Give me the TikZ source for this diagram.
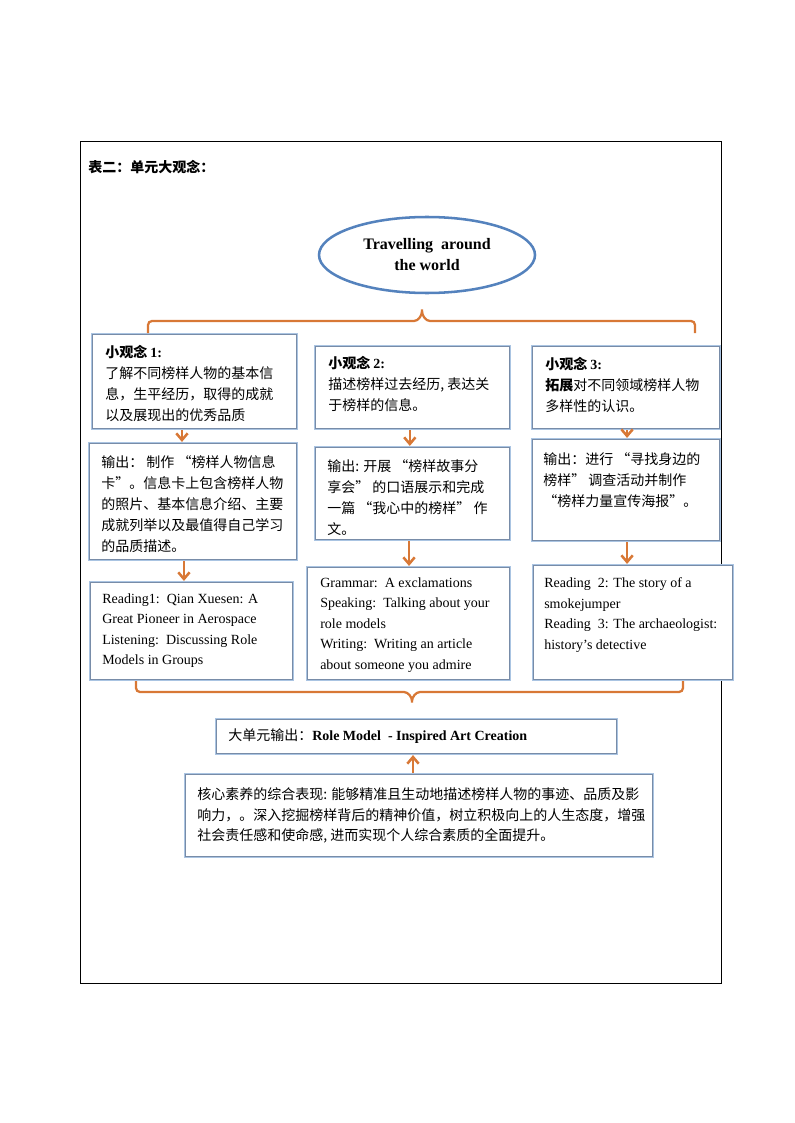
\documentclass[tikz,border=0pt]{standalone}
\usepackage{fontspec}
\setmainfont{Liberation Serif}
\newfontfamily\cjk{Noto Sans CJK SC}
\usetikzlibrary{arrows.meta,shapes.geometric,fit}
\definecolor{orangeline}{RGB}{216,120,54}
\definecolor{ellblue}{RGB}{84,130,189}
\definecolor{boxouter}{RGB}{170,196,226}
\definecolor{boxinner}{RGB}{120,140,168}
\tikzset{
  ubox/.style={draw=boxouter, line width=1.6pt, fill=white, inner sep=0pt},
  innerline/.style={draw=boxinner, line width=0.55pt},
  cntext/.style={anchor=west, align=left, inner sep=0pt, font={\cjk\fontsize{10.5}{15.75}\selectfont}},
  entext/.style={anchor=west, align=left, inner sep=0pt, font={\fontsize{10.5}{15.4}\selectfont}},
  flowarrow/.style={draw=orangeline, line width=1.9pt, -{Straight Barb[length=5pt,width=8.5pt,line width=1.9pt]}},
  bracepath/.style={draw=orangeline, line width=1.7pt, rounded corners=3pt},
}
\begin{document}
\begin{tikzpicture}[x=0.75pt,y=-0.75pt]
\path[use as bounding box] (0,0) rectangle (794,1123);
% outer frame
\draw[black, line width=0.7pt] (80,141) rectangle (721,983);

% title
\node[cntext, font={\cjk\bfseries\fontsize{10.5}{15.75}\selectfont}] (title) at (88,167) {表二：单元大观念：};

% ellipse
\node[ellipse, draw=ellblue, line width=1.9pt, minimum width=162pt, minimum height=57pt, align=center,
      font={\bfseries\fontsize{12}{15.75}\selectfont}] (ell) at (427,255) {Travelling\ \ around\\the world};

% boxes
\node[ubox, fit={(92,334) (297,429)}] (b1) {};
\node[ubox, fit={(89,443) (297,560)}] (o1) {};
\node[ubox, fit={(90,582) (293,680)}] (r1) {};
\node[ubox, fit={(315,346) (510,429)}] (b2) {};
\node[ubox, fit={(315,447) (510,540)}] (o2) {};
\node[ubox, fit={(307,567) (510,680)}] (r2) {};
\node[ubox, fit={(532,346) (720,429)}] (b3) {};
\node[ubox, fit={(532,439) (720,541)}] (o3) {};
\node[ubox, fit={(533,565) (733,680)}] (r3) {};
\node[ubox, fit={(216,719) (617,754)}] (big) {};
\node[ubox, fit={(185,774) (653,857)}] (core) {};
\foreach \n in {b1,o1,r1,b2,o2,r2,b3,o3,r3,big,core}
  \draw[innerline] ([shift={(1.1pt,-1.1pt)}]\n.north west) rectangle ([shift={(-1.1pt,1.1pt)}]\n.south east);

% texts
\node[cntext] (b1t) at (105,384) {{\bfseries 小观念 }\textbf{\rmfamily 1:}\\了解不同榜样人物的基本信\\息，生平经历，取得的成就\\以及展现出的优秀品质};
\node[cntext] (o1t) at (101,504) {输出： 制作 “榜样人物信息\\卡”。信息卡上包含榜样人物\\的照片、基本信息介绍、主要\\成就列举以及最值得自己学习\\的品质描述。};
\node[cntext] (b2t) at (328,384) {{\bfseries 小观念 }\textbf{\rmfamily 2:}\\描述榜样过去经历, 表达关\\于榜样的信息。};
\node[cntext] (o2t) at (327,497.5) {输出: 开展 “榜样故事分\\享会” 的口语展示和完成\\一篇 “我心中的榜样” 作\\文。};
\node[cntext] (b3t) at (545,385) {{\bfseries 小观念 }\textbf{\rmfamily 3:}\\{\bfseries 拓展}对不同领域榜样人物\\多样性的认识。};
\node[cntext] (o3t) at (543,480) {输出：进行 “寻找身边的\\榜样” 调查活动并制作\\“榜样力量宣传海报”。};
\node[entext] (r1t) at (102,630.5) {Reading1:\ \ Qian Xuesen: A\\Great Pioneer in Aerospace\\Listening:\ \ Discussing Role\\Models in Groups};
\node[entext] (r2t) at (320,625) {Grammar:\ \ A exclamations\\Speaking:\ \ Talking about your\\role models\\Writing:\ \ Writing an article\\about someone you admire};
\node[entext] (r3t) at (544,615) {Reading\ \ 2: The story of a\\smokejumper\\Reading\ \ 3: The archaeologist:\\history’s detective};
\node[cntext] (bigt) at (228,736) {大单元输出：\textbf{\rmfamily Role Model\ \ - Inspired Art Creation}};
\node[cntext, font={\cjk\fontsize{10.5}{15.4}\selectfont}] (coret) at (197,815.5) {核心素养的综合表现: 能够精准且生动地描述榜样人物的事迹、品质及影\\响力，。深入挖掘榜样背后的精神价值，树立积极向上的人生态度，增强\\社会责任感和使命感, 进而实现个人综合素质的全面提升。};

% vertical arrows
\draw[flowarrow] ([xshift=-9.4pt]b1.south) -- ([xshift=-9.4pt]b1.south |- o1.north);
\draw[flowarrow] ([xshift=-6.8pt]o1.south) -- ([xshift=-6.8pt]o1.south |- r1.north);
\draw[flowarrow] ([xshift=-2pt]b2.south) -- ([xshift=-2pt]b2.south |- o2.north);
\draw[flowarrow] ([xshift=-2.6pt]o2.south) -- ([xshift=-2.6pt]o2.south |- r2.north);
\draw[flowarrow] ([xshift=0.8pt]b3.south) -- ([xshift=0.8pt]b3.south |- o3.north);
\draw[flowarrow] ([xshift=0.8pt]o3.south) -- ([xshift=0.8pt]o3.south |- r3.north);
\draw[flowarrow] ([xshift=-4.5pt]core.north) -- ([xshift=-4.5pt]core.north |- big.south);

% braces
\coordinate (tl) at (148,333);
\coordinate (tr) at (695,333);
\coordinate (bl) at (136,681);
\coordinate (br) at (683,681);
\draw[bracepath] (tl) -- (148,321) -- (410,321) .. controls (418,321) and (422,316) .. (422,307)
      .. controls (422,316) and (426,321) .. (434,321) -- (695,321) -- (tr);
\draw[bracepath] (bl) -- (136,692) -- (400,692) .. controls (408,692) and (412,697) .. (412,705)
      .. controls (412,697) and (416,692) .. (424,692) -- (683,692) -- (br);
\end{tikzpicture}
\end{document}
